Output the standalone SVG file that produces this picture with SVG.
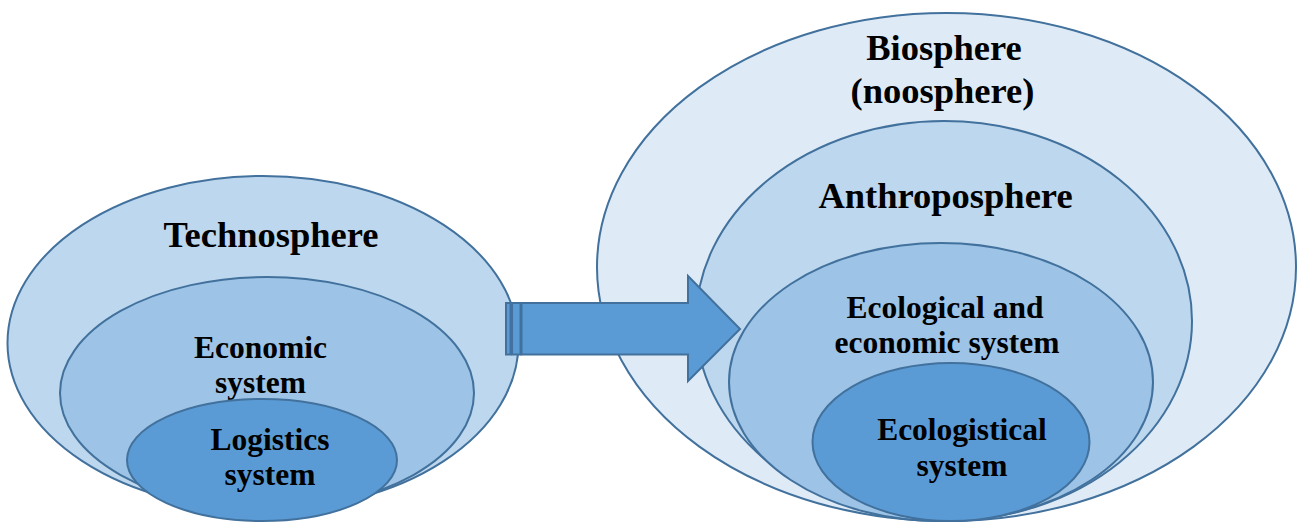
<svg xmlns="http://www.w3.org/2000/svg" width="1299" height="528" viewBox="0 0 1299 528">
<style>
.e{stroke:#41719C;stroke-width:2}
.l1{fill:#DEEBF7}
.l2{fill:#BDD7EE}
.l3{fill:#9DC3E6}
.l4{fill:#5B9BD5}
text{font-family:"Liberation Serif","Times New Roman",serif;font-weight:bold;fill:#000;text-anchor:middle}
.big{font-size:36.5px}
.sm{font-size:31.5px}
.arr{fill:#5B9BD5;stroke:#41719C;stroke-width:2}
</style>
<rect width="1299" height="528" fill="#fff"/>
<g id="biosphere">
<ellipse class="e l1" cx="946.5" cy="267" rx="349.5" ry="254"/>
<text class="big" x="944" y="60">Biosphere</text>
<text class="big" x="942.5" y="103">(noosphere)</text>
</g>
<g id="anthroposphere">
<ellipse class="e l2" cx="944" cy="321" rx="248" ry="200"/>
<text class="big" x="945.5" y="208">Anthroposphere</text>
</g>
<g id="ecological-economic">
<ellipse class="e l3" cx="941" cy="382" rx="212" ry="139"/>
<text class="sm" x="945" y="318">Ecological and</text>
<text class="sm" x="947" y="353">economic system</text>
</g>
<g id="ecologistical">
<ellipse class="e l4" cx="951" cy="442" rx="138.5" ry="79"/>
<text class="sm" x="962" y="440">Ecologistical</text>
<text class="sm" x="962" y="476">system</text>
</g>
<g id="technosphere">
<ellipse class="e l2" cx="263" cy="343" rx="255.5" ry="167"/>
<text class="big" x="271" y="247">Technosphere</text>
</g>
<g id="economic">
<ellipse class="e l3" cx="267" cy="393" rx="207" ry="116"/>
<text class="sm" x="260.5" y="358">Economic</text>
<text class="sm" x="260.5" y="393">system</text>
</g>
<g id="logistics">
<ellipse class="e l4" cx="262" cy="460" rx="135" ry="61"/>
<text class="sm" x="270" y="450">Logistics</text>
<text class="sm" x="270" y="485">system</text>
</g>
<g id="connectors">
<rect class="arr" x="506" y="303" width="4.5" height="51.5"/>
<rect class="arr" x="512" y="303" width="8.5" height="51.5"/>
<path class="arr" d="M521.5,303 L688,303 L688,276 L740,329 L688,381 L688,354.5 L521.5,354.5 Z"/>
</g>
</svg>
